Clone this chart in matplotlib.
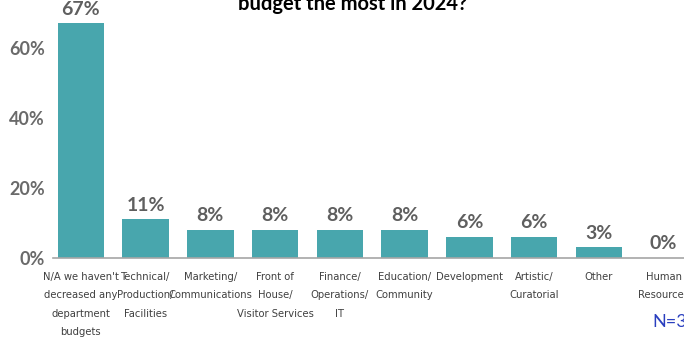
import matplotlib
matplotlib.use("Agg")
import matplotlib.pyplot as plt

# Anteil der Organisationen je Abteilung (%)
categories = [
    "N/A we haven't\ndecreased any\ndepartment\nbudgets",
    "Technical/\nProduction/\nFacilities",
    "Marketing/\nCommunications",
    "Front of\nHouse/\nVisitor Services",
    "Finance/\nOperations/\nIT",
    "Education/\nCommunity",
    "Development",
    "Artistic/\nCuratorial",
    "Other",
    "Human\nResources",
]
values = [67, 11, 8, 8, 8, 8, 6, 6, 3, 0]
y_ticks = [0, 20, 40, 60]

bar_color = "#48A6AD"
value_color = "#5F5F5F"
bold_font = ["Lato", "DejaVu Sans"]

fig = plt.figure(figsize=(6.84, 3.39), dpi=100)
ax = fig.add_axes([0.0775, 0.239, 0.94, 0.7227])

x = range(len(values))
bars = ax.bar(x, values, width=0.72, color=bar_color, zorder=2)

# Werte über den Balken
for xi, v in zip(x, values):
    ax.text(xi, v + 1.7, f"{v}%", ha="center", va="bottom",
            fontsize=14, fontweight="bold", color=value_color, family=bold_font)

ax.set_xlim(-0.43, 9.5)
ax.set_ylim(0, 70)

ax.set_yticks(y_ticks)
ax.set_yticklabels([f"{t}%" for t in y_ticks])
for lbl in ax.get_yticklabels():
    lbl.set_family(bold_font)
    lbl.set_fontweight("bold")
    lbl.set_fontsize(13)
    lbl.set_color("#6A6A6A")
ax.tick_params(axis="y", length=0, pad=6)

ax.set_xticks(list(x))
ax.set_xticklabels(categories, fontsize=8, color="#404040",
                   family="DejaVu Sans", stretch="condensed")
for lbl in ax.get_xticklabels():
    lbl.set_linespacing(2.05)
ax.tick_params(axis="x", length=0, pad=10)

for side in ["top", "right", "left"]:
    ax.spines[side].set_visible(False)
ax.spines["bottom"].set_color("#A6A6A6")
ax.spines["bottom"].set_linewidth(1.2)

# Titel (zweite Zeile) und Stichprobengröße
fig.text(0.515, 1 - 10 / 339, "budget the most in 2024?", ha="center",
         va="baseline", fontsize=14.5, fontweight="bold", color="black",
         family=bold_font)
fig.text(652 / 684, 1 - 327 / 339, "N=3", ha="left", va="baseline",
         fontsize=13, color="#2A3FBF", family=["Lato", "DejaVu Sans"])

fig.savefig("out.png", dpi=100)
